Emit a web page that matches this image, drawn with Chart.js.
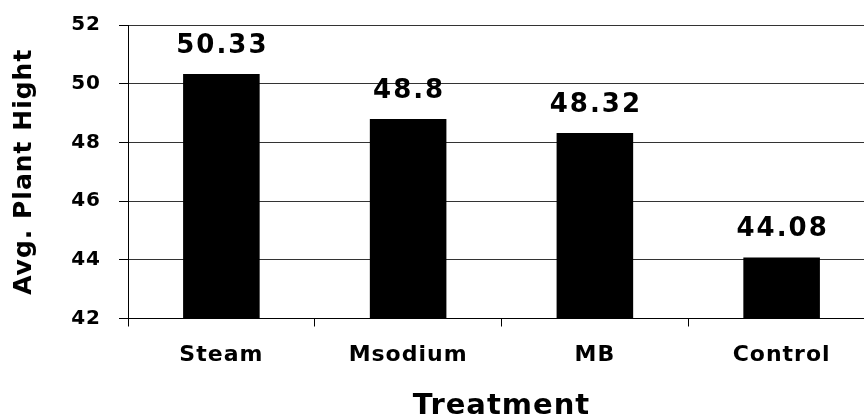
<!DOCTYPE html>
<html>
<head>
<meta charset="utf-8">
<script src="https://cdn.jsdelivr.net/npm/chart.js@4.4.1/dist/chart.umd.min.js"></script>
<style>
  html, body { margin: 0; padding: 0; background: #fff; overflow: hidden; width: 864px; height: 419px; }
  #wrap { width: 875px; height: 419px; }
</style>
</head>
<body>
<div id="wrap"><canvas id="c" width="875" height="419"></canvas></div>
<script>
// Average plant height per soil treatment
const treatments = ['Steam', 'Msodium', 'MB', 'Control'];
const avgHeight = [50.33, 48.8, 48.32, 44.08];
const yTicks = [42, 44, 46, 48, 50, 52];

const FONT = '"DejaVu Sans", "Liberation Sans", Arial, sans-serif';

// Letter tracking per font size (px), applied whenever the context font changes
const TRACKING = { '20': '1px', '22': '1px', '25': '1px', '26': '2px', '29': '1px' };

const canvas = document.getElementById('c');
const ctx = canvas.getContext('2d');
const fontDesc = Object.getOwnPropertyDescriptor(CanvasRenderingContext2D.prototype, 'font');
Object.defineProperty(ctx, 'font', {
  get() { return fontDesc.get.call(this); },
  set(v) {
    fontDesc.set.call(this, v);
    const m = /(\d+(?:\.\d+)?)px/.exec(v);
    if ('letterSpacing' in this) this.letterSpacing = (m && TRACKING[m[1]]) || '0px';
  }
});

// Value printed above each bar
const valueLabels = {
  id: 'valueLabels',
  afterDatasetsDraw(chart) {
    const c = chart.ctx;
    const meta = chart.getDatasetMeta(0);
    c.save();
    c.font = 'bold 26px ' + FONT;
    c.fillStyle = '#000';
    c.textAlign = 'center';
    c.textBaseline = 'alphabetic';
    meta.data.forEach((bar, i) => {
      c.fillText(String(avgHeight[i]), bar.x + 1, bar.y - 21);
    });
    c.restore();
  }
};

new Chart(ctx, {
  type: 'bar',
  data: {
    labels: treatments,
    datasets: [{
      data: avgHeight,
      backgroundColor: '#000',
      borderWidth: 0,
      barPercentage: 0.41,
      categoryPercentage: 1.0
    }]
  },
  options: {
    responsive: false,
    animation: false,
    devicePixelRatio: 1,
    layout: { padding: { top: 25, right: 0, bottom: 0, left: 0 } },
    plugins: {
      legend: { display: false },
      tooltip: { enabled: false }
    },
    scales: {
      x: {
        offset: true,
        grid: {
          offset: true,
          drawOnChartArea: false,
          drawTicks: true,
          tickLength: 8,
          tickColor: '#000',
          lineWidth: 1
        },
        border: { display: true, color: '#000', width: 1 },
        ticks: {
          color: '#000',
          padding: 16,
          maxRotation: 0,
          font: { family: FONT, size: 22, weight: 'bold' }
        },
        title: {
          display: true,
          text: 'Treatment',
          color: '#000',
          font: { family: FONT, size: 29, weight: 'bold', lineHeight: 1 },
          padding: { top: 0, bottom: -2 }
        },
        afterFit(scale) { scale.height = 100.5; }
      },
      y: {
        min: 42,
        max: 52,
        afterBuildTicks(scale) { scale.ticks = yTicks.map(v => ({ value: v })); },
        grid: {
          color: '#333',
          lineWidth: 1,
          drawTicks: true,
          tickLength: 9,
          tickColor: '#000'
        },
        border: { display: true, color: '#000', width: 1 },
        ticks: {
          color: '#000',
          padding: 18,
          font: { family: FONT, size: 20, weight: 'bold' }
        },
        title: {
          display: true,
          text: 'Avg. Plant Hight',
          color: '#000',
          font: { family: FONT, size: 25, weight: 'bold', lineHeight: 1.2 },
          padding: { top: 9, bottom: 0 }
        },
        afterFit(scale) {
          scale.width = 128;
          scale.paddingTop = 0;
          scale.paddingBottom = 0;
        }
      }
    }
  },
  plugins: [valueLabels]
});
</script>
</body>
</html>
